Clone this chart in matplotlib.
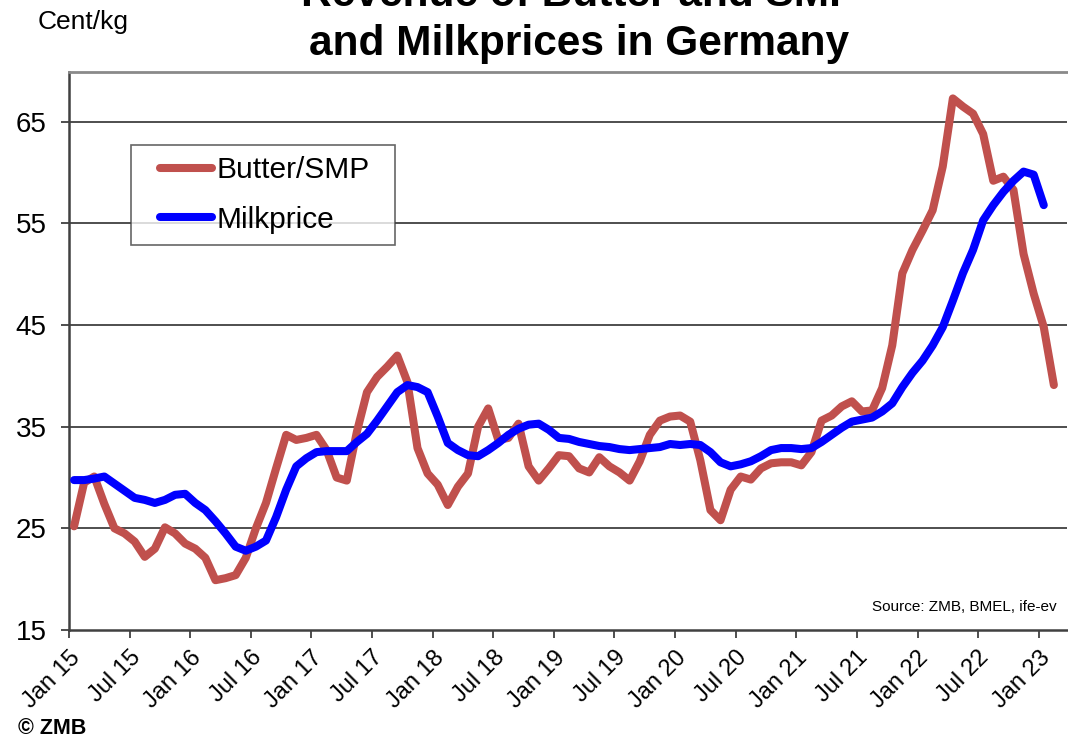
import matplotlib
matplotlib.use("Agg")
import matplotlib.pyplot as plt
from matplotlib.legend_handler import HandlerLine2D
import numpy as np

plt.rcParams['font.family'] = ['Liberation Sans', 'DejaVu Sans']

# Monthly series, Jan 15 onwards (cent/kg)
butter_smp = [
    25.2, 29.5, 30.1, 27.4, 25.0, 24.5, 23.7, 22.2, 23.0, 25.1, 24.5, 23.5,   # 2015
    23.0, 22.1, 19.9, 20.1, 20.4, 22.1, 25.0, 27.5, 30.9, 34.2, 33.7, 33.9,   # 2016
    34.2, 32.7, 30.0, 29.7, 34.5, 38.4, 39.9, 40.9, 42.0, 39.4, 32.9, 30.4,   # 2017
    29.3, 27.3, 29.1, 30.4, 35.0, 36.8, 33.7, 33.9, 35.3, 31.1, 29.7, 30.9,   # 2018
    32.2, 32.1, 30.9, 30.5, 32.0, 31.1, 30.5, 29.7, 31.6, 34.2, 35.6, 36.0,   # 2019
    36.1, 35.5, 31.7, 26.8, 25.8, 28.8, 30.1, 29.8, 30.9, 31.4, 31.5, 31.5,   # 2020
    31.2, 32.5, 35.6, 36.1, 37.0, 37.5, 36.5, 36.6, 38.8, 43.0, 50.1, 52.4,   # 2021
    54.3, 56.3, 60.6, 67.3, 66.5, 65.8, 63.8, 59.2, 59.6, 58.3, 52.0, 48.1,   # 2022
    44.8, 39.1,                                                               # 2023
]
milkprice = [
    29.75, 29.75, 29.9, 30.1, 29.4, 28.7, 28.0, 27.8, 27.5, 27.8, 28.3, 28.4,  # 2015
    27.5, 26.8, 25.7, 24.5, 23.2, 22.8, 23.2, 23.8, 26.1, 28.8, 31.1, 31.9,    # 2016
    32.5, 32.6, 32.6, 32.6, 33.5, 34.3, 35.6, 37.0, 38.4, 39.1, 38.9, 38.4,    # 2017
    36.0, 33.4, 32.7, 32.2, 32.1, 32.7, 33.4, 34.2, 34.8, 35.2, 35.3, 34.7,    # 2018
    33.9, 33.8, 33.5, 33.3, 33.1, 33.0, 32.8, 32.7, 32.8, 32.9, 33.0, 33.3,    # 2019
    33.2, 33.3, 33.2, 32.5, 31.5, 31.1, 31.3, 31.6, 32.1, 32.7, 32.9, 32.9,    # 2020
    32.8, 32.9, 33.5, 34.2, 34.9, 35.5, 35.7, 35.9, 36.5, 37.3, 38.9, 40.3,    # 2021
    41.5, 43.0, 44.8, 47.4, 50.1, 52.4, 55.3, 56.8, 58.1, 59.2, 60.1, 59.8,    # 2022
    56.8,                                                                      # 2023
]
tick_labels = ['Jan 15', 'Jul 15', 'Jan 16', 'Jul 16', 'Jan 17', 'Jul 17',
               'Jan 18', 'Jul 18', 'Jan 19', 'Jul 19', 'Jan 20', 'Jul 20',
               'Jan 21', 'Jul 21', 'Jan 22', 'Jul 22', 'Jan 23']
y_ticks = [15, 25, 35, 45, 55, 65]

W, H = 1068, 738
fig = plt.figure(figsize=(W / 100, H / 100), dpi=100)
AX_L, AX_R, AX_T, AX_B = 69, 1067, 72, 630
ax = fig.add_axes([AX_L / W, 1 - AX_B / H, (AX_R - AX_L) / W, (AX_B - AX_T) / H])

x_b = np.arange(len(butter_smp)) + 0.5
x_m = np.arange(len(milkprice)) + 0.5

ax.plot(x_b, butter_smp, color='#C0504D', lw=5.8, solid_joinstyle='round',
        solid_capstyle='round', label='Butter/SMP', zorder=3)
ax.plot(x_m, milkprice, color='#0000FF', lw=5.8, solid_joinstyle='round',
        solid_capstyle='round', label='Milkprice', zorder=4)

ax.set_xlim(0, 98.8)
ax.set_ylim(15, 69.9)
ax.set_yticks(y_ticks)
ax.set_yticklabels([str(v) for v in y_ticks])
ax.set_xticks(np.arange(0, 6 * len(tick_labels), 6))
ax.set_xticklabels(tick_labels, rotation=45, ha='right', va='top',
                   rotation_mode='anchor')

for v in y_ticks[1:]:
    ax.axhline(v, color='#303030', lw=1.2, zorder=1)

ax.tick_params(axis='y', direction='out', length=6, width=1.2, pad=10,
               labelsize=20, colors='#303030', labelcolor='black')
ax.tick_params(axis='x', direction='out', length=6, width=1.2, pad=6,
               labelsize=17, colors='#303030', labelcolor='black')

for s in ['left', 'bottom']:
    ax.spines[s].set_color('#404040')
    ax.spines[s].set_linewidth(1.8)
ax.spines['top'].set_color('#8a8a8a')
ax.spines['top'].set_linewidth(2.0)
ax.spines['right'].set_visible(False)

# legend box: x 131..395, y 145..245 (pixels)
aw, ah = AX_R - AX_L, AX_B - AX_T
bb = ((131 - AX_L) / aw, 1 - (245 - AX_T) / ah, (395 - 131) / aw, (245 - 145) / ah)
leg = ax.legend(loc='upper left', bbox_to_anchor=bb, mode='expand',
                fontsize=21.5, frameon=True, fancybox=False, handlelength=2.35,
                handletextpad=0.15, borderpad=0.37, labelspacing=0.73,
                borderaxespad=0,
                handler_map={plt.Line2D: HandlerLine2D(xpad=0.6)})
leg.get_frame().set_edgecolor('#404040')
leg.get_frame().set_linewidth(1.2)

fig.text(579 / W, 1 - 6 / H, 'Revenue of Butter and SMP', ha='center',
         va='baseline', fontsize=30.5, fontweight='bold')
fig.text(579 / W, 1 - 55 / H, 'and Milkprices in Germany', ha='center',
         va='baseline', fontsize=30.5, fontweight='bold')
fig.text(38 / W, 1 - 29 / H, 'Cent/kg', ha='left', va='baseline', fontsize=19)
fig.text(1057 / W, 1 - 611 / H, 'Source: ZMB, BMEL, ife-ev', ha='right',
         va='baseline', fontsize=11)
fig.text(18 / W, 1 - 734 / H, '© ZMB', ha='left', va='baseline', fontsize=15.5,
         fontweight='bold')

fig.savefig('out.png', dpi=100)
